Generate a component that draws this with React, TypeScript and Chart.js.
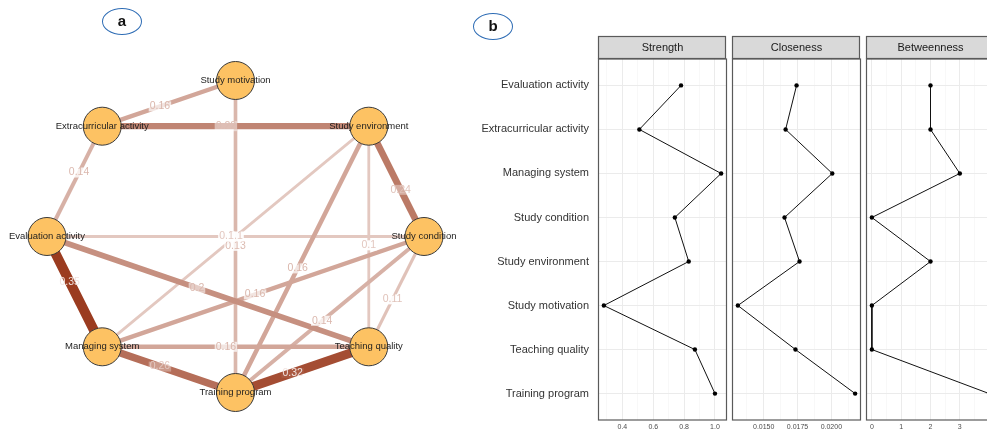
import React, { useEffect, useRef } from 'react';
import { Chart, registerables } from 'chart.js';

Chart.register(...registerables);

const FONT = "'Liberation Sans', Arial, Helvetica, sans-serif";

// ---------- Panel a: network ----------
const NODE_NAMES = [
  'Study motivation',
  'Extracurricular activity',
  'Study environment',
  'Evaluation activity',
  'Study condition',
  'Managing system',
  'Teaching quality',
  'Training program',
];
// circle layout angles (degrees)
const NODE_ANGLES = [90, 135, 45, 180, 0, 225, 315, 270];

const EDGE_FROM = [
  'Study motivation', 'Extracurricular activity', 'Extracurricular activity', 'Study motivation',
  'Study environment', 'Study environment', 'Study environment', 'Study environment',
  'Evaluation activity', 'Evaluation activity', 'Evaluation activity',
  'Study condition', 'Study condition', 'Study condition',
  'Managing system', 'Managing system', 'Teaching quality',
];
const EDGE_TO = [
  'Extracurricular activity', 'Study environment', 'Evaluation activity', 'Training program',
  'Study condition', 'Managing system', 'Training program', 'Teaching quality',
  'Study condition', 'Managing system', 'Teaching quality',
  'Managing system', 'Training program', 'Teaching quality',
  'Teaching quality', 'Training program', 'Training program',
];
const EDGE_WEIGHTS = [0.16, 0.22, 0.14, 0.13, 0.24, 0.1, 0.16, 0.1, 0.1, 0.35, 0.2, 0.16, 0.14, 0.11, 0.16, 0.26, 0.32];
const EDGE_LABELS = ['0.16', '0.22', '0.14', '0.13', '0.24', '0.1', '0.16', '0.1', '0.1', '0.35', '0.2', '0.16', '0.14', '0.11', '0.16', '0.26', '0.32'];
const EDGE_LABEL_T = [0.567, 0.464, 0.42, 0.53, 0.577, 0.5, 0.534, 0.54, 0.476, 0.41, 0.466, 0.525, 0.54, 0.57, 0.464, 0.433, 0.571];

// ---------- Panel b: centrality ----------
const CATEGORIES = [
  'Evaluation activity',
  'Extracurricular activity',
  'Managing system',
  'Study condition',
  'Study environment',
  'Study motivation',
  'Teaching quality',
  'Training program',
];
const STRENGTH = [0.78, 0.51, 1.04, 0.74, 0.83, 0.28, 0.87, 1.0];
const CLOSENESS = [0.01743, 0.01662, 0.02007, 0.01654, 0.01765, 0.01309, 0.01735, 0.02176];
const BETWEENNESS = [2, 2, 3, 0, 2, 0, 0, 4];

const STRENGTH_TICKS = [0.4, 0.6, 0.8, 1.0];
const STRENGTH_TICK_LABELS = ['0.4', '0.6', '0.8', '1.0'];
const CLOSENESS_TICKS = [0.015, 0.0175, 0.02];
const CLOSENESS_TICK_LABELS = ['0.0150', '0.0175', '0.0200'];
const BETWEENNESS_TICKS = [0, 1, 2, 3, 4];
const BETWEENNESS_TICK_LABELS = ['0', '1', '2', '3', '4'];

function clamp01(v: number) {
  return Math.max(0, Math.min(1, v));
}
function edgeColor(w: number): [number, number, number] {
  const base = [150, 50, 20];
  const f = clamp01(0.27 + (w - 0.1) * 2.72);
  return [0, 1, 2].map((k) => Math.round(255 * (1 - f) + base[k] * f)) as [number, number, number];
}
function rgb(c: number[], a = 1) {
  return `rgba(${c[0]},${c[1]},${c[2]},${a})`;
}
function mixWhite(c: number[], a: number) {
  return c.map((v) => Math.round(v + (255 - v) * a));
}

function nodePos(name: string) {
  const i = NODE_NAMES.indexOf(name);
  const a = (NODE_ANGLES[i] * Math.PI) / 180;
  return { x: Math.cos(a), y: Math.sin(a) };
}

function NetworkChart() {
  const ref = useRef<HTMLCanvasElement>(null);
  useEffect(() => {
    if (!ref.current) return;
    const edgeSets = EDGE_WEIGHTS.map((w, i) => ({
      data: [nodePos(EDGE_FROM[i]), nodePos(EDGE_TO[i])],
      showLine: true,
      borderColor: rgb(edgeColor(w)),
      borderWidth: w * 28,
      pointRadius: 0,
      pointHoverRadius: 0,
      order: 1 + Math.round((0.5 - w) * 100),
      borderCapStyle: 'butt',
    }));
    const nodeSet = {
      data: NODE_NAMES.map(nodePos),
      pointRadius: 19,
      pointHoverRadius: 19,
      backgroundColor: '#FDC263',
      borderColor: '#3a3a3a',
      borderWidth: 1,
      order: 0,
    };
    const labelPlugin = {
      id: 'netLabels',
      afterDatasetsDraw(chart: any) {
        const ctx = chart.ctx;
        const xs = chart.scales.x;
        const ys = chart.scales.y;
        ctx.save();
        ctx.textAlign = 'center';
        ctx.textBaseline = 'middle';
        ctx.font = `10.5px ${FONT}`;
        EDGE_WEIGHTS.forEach((w, i) => {
          const p1 = nodePos(EDGE_FROM[i]);
          const p2 = nodePos(EDGE_TO[i]);
          const t = EDGE_LABEL_T[i];
          const px = xs.getPixelForValue(p1.x + (p2.x - p1.x) * t);
          const py = ys.getPixelForValue(p1.y + (p2.y - p1.y) * t);
          const c = edgeColor(w);
          const tw = ctx.measureText(EDGE_LABELS[i]).width;
          const bgAlpha = clamp01(0.95 - (w - 0.1) * 4);
          if (bgAlpha > 0) {
            ctx.fillStyle = `rgba(255,255,255,${bgAlpha})`;
            ctx.fillRect(px - tw / 2 - 1, py - 5, tw + 2, 10);
          }
          ctx.fillStyle = rgb(mixWhite(c, Math.min(0.85, Math.max(0, (w - 0.12) * 4.5))));
          ctx.fillText(EDGE_LABELS[i], px, py);
        });
        ctx.font = `9.5px ${FONT}`;
        ctx.fillStyle = '#1e1e1e';
        NODE_NAMES.forEach((n) => {
          const p = nodePos(n);
          ctx.fillText(n, xs.getPixelForValue(p.x), ys.getPixelForValue(p.y));
        });
        ctx.restore();
      },
    };
    const chart = new Chart(ref.current, {
      type: 'scatter',
      data: { datasets: [nodeSet, ...edgeSets] as any },
      options: {
        animation: false,
        responsive: false,
        events: [],
        layout: { padding: 0, autoPadding: false },
        plugins: { legend: { display: false }, tooltip: { enabled: false } },
        scales: {
          x: { type: 'linear', display: false, min: -1.2493, max: 1.244 },
          y: { type: 'linear', display: false, min: -1.2532, max: 1.516 },
        },
      } as any,
      plugins: [labelPlugin],
    });
    return () => chart.destroy();
  }, []);
  return (
    <canvas
      ref={ref}
      width={470}
      height={432}
      style={{ position: 'absolute', left: 0, top: 0, width: 470, height: 432 }}
    />
  );
}

type MetricProps = {
  title: string;
  values: number[];
  ticks: number[];
  tickLabels: string[];
  showY: boolean;
  left: number;
  width: number;
  padL: number;
  padR: number;
};

function MetricChart(props: MetricProps) {
  const ref = useRef<HTMLCanvasElement>(null);
  useEffect(() => {
    if (!ref.current) return;
    const { title, values, ticks, tickLabels, showY, padL, padR } = props;
    const vmin = Math.min(...values);
    const vmax = Math.max(...values);
    const span = vmax - vmin;
    const lo = vmin - 0.05 * span;
    const hi = vmax + 0.05 * span;
    const step = ticks[1] - ticks[0];
    const minors = [ticks[0] - step / 2, ...ticks.map((t) => t + step / 2)].filter((v) => v > lo && v < hi);
    const allTicks = [...ticks.filter((v) => v >= lo && v <= hi), ...minors].sort((a, b) => a - b);
    const majorIndex = (v: number) => ticks.findIndex((t) => Math.abs(t - v) < step * 1e-3);

    const stripPlugin = {
      id: 'strip',
      afterDraw(chart: any) {
        const { left, right, top, bottom } = chart.chartArea;
        const ctx = chart.ctx;
        ctx.save();
        ctx.strokeStyle = '#5a5a5a';
        ctx.lineWidth = 1.2;
        ctx.strokeRect(left + 0.5, top, right - left - 1, bottom - top);
        ctx.fillStyle = '#d9d9d9';
        ctx.fillRect(left + 0.5, 36.5, right - left - 2, 22);
        ctx.strokeRect(left + 0.5, 36.5, right - left - 2, 22);
        ctx.fillStyle = '#1a1a1a';
        ctx.font = `11px ${FONT}`;
        ctx.textAlign = 'center';
        ctx.textBaseline = 'middle';
        ctx.fillText(title, (left + right) / 2, 48);
        ctx.restore();
      },
    };

    const zeroPad = (s: any) => {
      s.paddingTop = 0;
      s.paddingBottom = 0;
      s.paddingLeft = 0;
      s.paddingRight = 0;
    };

    const chart = new Chart(ref.current, {
      type: 'scatter',
      data: {
        datasets: [
          {
            data: values.map((v, i) => ({ x: v, y: i })),
            showLine: true,
            borderColor: '#111',
            borderWidth: 1,
            pointRadius: 2.2,
            pointHoverRadius: 2.2,
            pointBackgroundColor: '#000',
            pointBorderColor: '#000',
            pointBorderWidth: 0,
            tension: 0,
          },
        ],
      },
      options: {
        animation: false,
        responsive: false,
        events: [],
        layout: { padding: { top: 59, left: padL, right: padR, bottom: 0 }, autoPadding: false },
        plugins: { legend: { display: false }, tooltip: { enabled: false } },
        scales: {
          x: {
            type: 'linear',
            min: lo,
            max: hi,
            afterBuildTicks: (s: any) => {
              s.ticks = allTicks.map((v) => ({ value: v }));
            },
            afterFit: (s: any) => {
              s.height = 12;
              zeroPad(s);
            },
            grid: {
              drawTicks: false,
              color: (c: any) => (majorIndex(c.tick.value) >= 0 ? '#ebebeb' : '#f3f3f3'),
              lineWidth: (c: any) => (majorIndex(c.tick.value) >= 0 ? 1 : 0.6),
            },
            border: { display: false },
            ticks: {
              autoSkip: false,
              maxRotation: 0,
              padding: 3,
              color: '#4d4d4d',
              font: { size: 7, family: FONT },
              callback: (v: any) => {
                const k = majorIndex(Number(v));
                return k >= 0 ? tickLabels[k] : '';
              },
            },
          },
          y: {
            type: 'linear',
            reverse: true,
            min: -0.6,
            max: CATEGORIES.length - 0.4,
            afterBuildTicks: (s: any) => {
              s.ticks = CATEGORIES.map((_, i) => ({ value: i }));
            },
            afterFit: (s: any) => {
              s.width = showY ? 128 : 0;
              zeroPad(s);
            },
            grid: { drawTicks: false, color: '#ebebeb', lineWidth: 1 },
            border: { display: false },
            ticks: {
              display: showY,
              autoSkip: false,
              padding: 9,
              color: '#333',
              font: { size: 11, family: FONT },
              callback: (v: any) => CATEGORIES[Number(v)] ?? '',
            },
          },
        },
      } as any,
      plugins: [stripPlugin],
    });
    return () => chart.destroy();
  }, []);
  return (
    <canvas
      ref={ref}
      width={props.width}
      height={432}
      style={{ position: 'absolute', left: props.left, top: 0, width: props.width, height: 432 }}
    />
  );
}

function Badge({ text, cx, cy }: { text: string; cx: number; cy: number }) {
  const w = 40;
  const h = 27;
  return (
    <div
      style={{
        position: 'absolute',
        left: cx - w / 2,
        top: cy - h / 2,
        width: w,
        height: h,
        boxSizing: 'border-box',
        border: '1.5px solid #2f6db5',
        borderRadius: '50%',
        fontFamily: FONT,
        fontWeight: 'bold',
        fontSize: 15,
        lineHeight: `${h - 3}px`,
        textAlign: 'center',
        color: '#111',
      }}
    >
      {text}
    </div>
  );
}

export default function App() {
  return (
    <div
      style={{
        position: 'absolute',
        left: 0,
        top: 0,
        width: 987,
        height: 432,
        overflow: 'hidden',
        background: '#fff',
      }}
    >
      <NetworkChart />
      <MetricChart
        title="Strength"
        values={STRENGTH}
        ticks={STRENGTH_TICKS}
        tickLabels={STRENGTH_TICK_LABELS}
        showY={true}
        left={470}
        width={260}
        padL={0}
        padR={3}
      />
      <MetricChart
        title="Closeness"
        values={CLOSENESS}
        ticks={CLOSENESS_TICKS}
        tickLabels={CLOSENESS_TICK_LABELS}
        showY={false}
        left={729}
        width={136}
        padL={3}
        padR={4}
      />
      <MetricChart
        title="Betweenness"
        values={BETWEENNESS}
        ticks={BETWEENNESS_TICKS}
        tickLabels={BETWEENNESS_TICK_LABELS}
        showY={false}
        left={862}
        width={140}
        padL={4}
        padR={7}
      />
      <Badge text="a" cx={122} cy={21} />
      <Badge text="b" cx={493} cy={26} />
    </div>
  );
}
